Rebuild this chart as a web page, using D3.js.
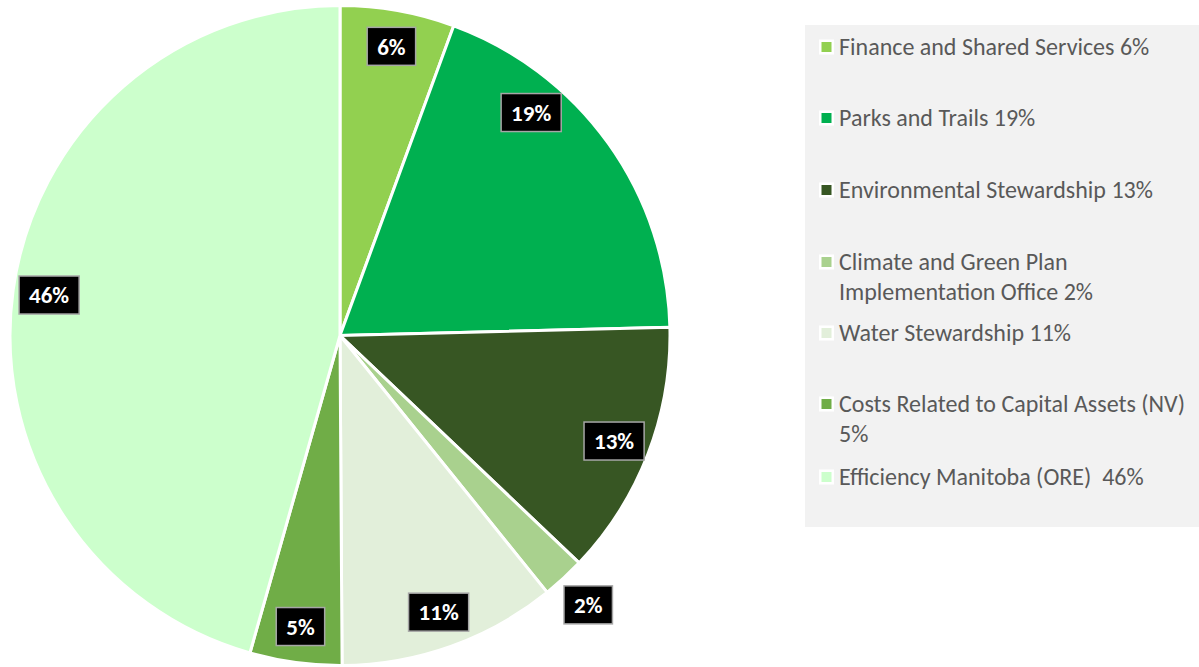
<!DOCTYPE html>
<html>
<head>
<meta charset="utf-8">
<script src="https://cdn.jsdelivr.net/npm/d3@7"></script>
<style>
  html, body { margin: 0; padding: 0; background: #fff; }
  svg { display: block; }
  text { white-space: pre; }
</style>
</head>
<body>
<div id="chart"></div>
<script>
// slices, clockwise from 12 o'clock
var categories = ["Finance and Shared Services", "Parks and Trails", "Environmental Stewardship",
  "Climate and Green Plan Implementation Office", "Water Stewardship",
  "Costs Related to Capital Assets (NV)", "Efficiency Manitoba (ORE)"];
var shares = [5.6, 19.0, 12.5, 2.1, 10.7, 4.5, 45.6];
var pctLabels = ["6%", "19%", "13%", "2%", "11%", "5%", "46%"];
var colors = ["#92d050", "#00b050", "#375623", "#a9d18e", "#e2efda", "#70ad47", "#ccffcc"];
// legend text as it wraps in the box
var legendLines = [
  ["Finance and Shared Services 6%"],
  ["Parks and Trails 19%"],
  ["Environmental Stewardship 13%"],
  ["Climate and Green Plan", "Implementation Office 2%"],
  ["Water Stewardship 11%"],
  ["Costs Related to Capital Assets (NV)", "5%"],
  ["Efficiency Manitoba (ORE)  46%"]
];
var legendY = [47, 118, 190, 262, 333, 404, 477];

var w = 1199, h = 667;
var cx = 340, cy = 335.5, r = 330;
var font = "Carlito, Calibri, Lato, sans-serif";

var svg = d3.select("#chart").append("svg").attr("width", w).attr("height", h);

var pie = d3.pie().sort(null).value(function(d) { return d; });
var arcs = pie(shares);
var arc = d3.arc().innerRadius(0).outerRadius(r);

var g = svg.append("g").attr("transform", "translate(" + cx + "," + cy + ")");
g.selectAll("path.slice").data(arcs).enter().append("path")
  .attr("class", "slice")
  .attr("d", arc)
  .attr("fill", function(d, i) { return colors[i]; })
  .attr("stroke", "#fff").attr("stroke-width", 3).attr("stroke-linejoin", "round");

// data labels
function labelPos(d, i) {
  var a = (d.startAngle + d.endAngle) / 2;
  var k = 0.89;
  if (d.endAngle - d.startAngle < 0.2) k = 1.11;   // thin slice: put outside
  if (i === 1) a -= 0.24;                          // best-fit shift like the source
  return [Math.sin(a) * r * k, -Math.cos(a) * r * k];
}
var lab = g.selectAll("g.lab").data(arcs).enter().append("g")
  .attr("class", "lab")
  .attr("transform", function(d, i) { var p = labelPos(d, i); return "translate(" + p[0] + "," + p[1] + ")"; });
var labText = lab.append("text")
  .attr("text-anchor", "middle").attr("dy", "0.36em")
  .attr("font-family", font).attr("font-weight", "bold").attr("font-size", 23)
  .attr("fill", "#fff")
  .text(function(d, i) { return pctLabels[i]; });
labText.each(function() {
  var tw = this.getComputedTextLength();
  d3.select(this.parentNode).insert("rect", "text")
    .attr("x", -tw / 2 - 10).attr("y", -19).attr("width", tw + 20).attr("height", 38)
    .attr("fill", "#000").attr("stroke", "#a6a6a6").attr("stroke-width", 1.5);
});

// legend
svg.append("rect").attr("x", 805).attr("y", 25).attr("width", 394).attr("height", 502).attr("fill", "#f2f2f2");
var leg = svg.selectAll("g.leg").data(categories).enter().append("g").attr("class", "leg")
  .attr("transform", function(d, i) { return "translate(819," + legendY[i] + ")"; });
leg.append("rect").attr("x", 0).attr("y", -7.5).attr("width", 15).attr("height", 15).attr("fill", "#fff");
leg.append("rect").attr("x", 2.5).attr("y", -5).attr("width", 10).attr("height", 10)
  .attr("fill", function(d, i) { return colors[i]; });
leg.each(function(d, i) {
  var t = d3.select(this).append("text")
    .attr("font-family", font).attr("font-size", 24).attr("fill", "#595959");
  legendLines[i].forEach(function(line, j) {
    t.append("tspan").attr("x", 20).attr("y", j * 30).attr("dy", "0.35em").text(line);
  });
});
</script>
</body>
</html>
